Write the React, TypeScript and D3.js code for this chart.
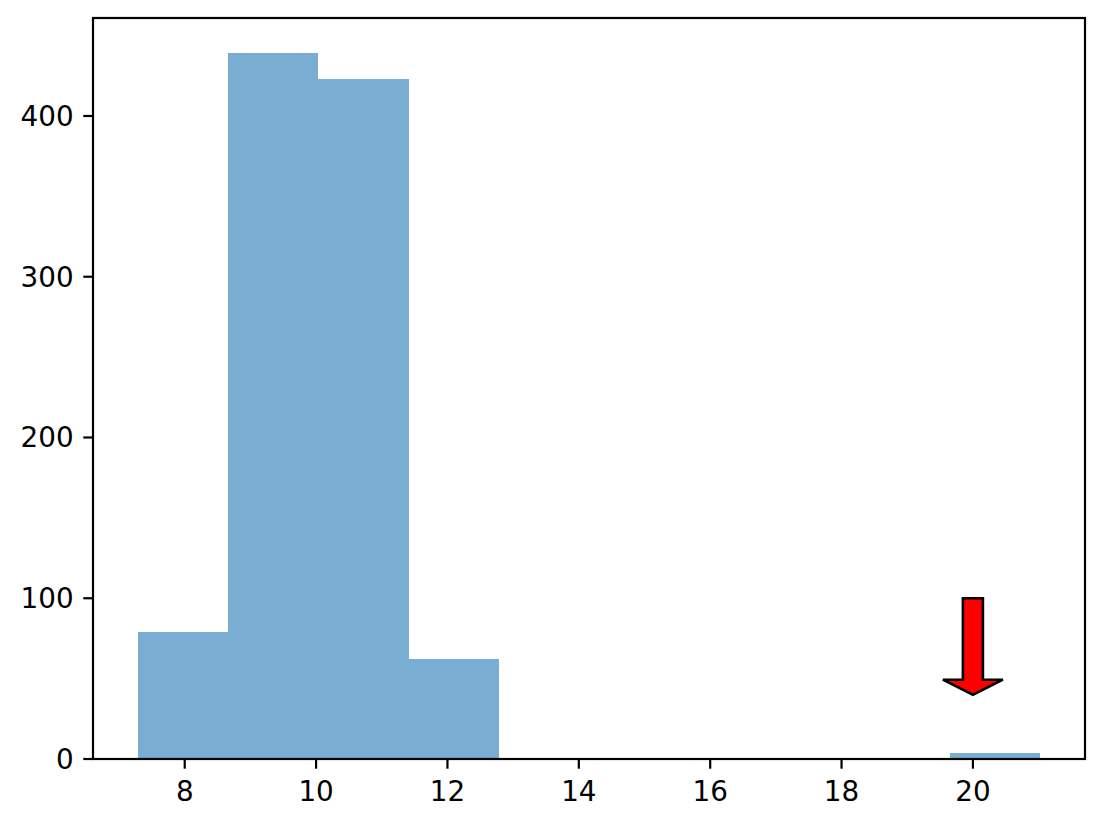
import React from "react";
import * as d3 from "d3";

const binStart = 7.29;
const binEnd = 21.02;
const binCounts = [79, 439, 423, 62, 0, 0, 0, 0, 0, 4];
const xTicks = [8, 10, 12, 14, 16, 18, 20];
const yTicks = [0, 100, 200, 300, 400];
const arrowFrom = { x: 20, y: 100 };
const arrowTo = { x: 20, y: 40 };

const W = 1104;
const H = 826;
const L = 93, R = 1085, T = 18, B = 759;
const FONT = "'DejaVu Sans', sans-serif";
const FS = 27.8;

export default function App() {
  const nb = binCounts.length;
  const bw = (binEnd - binStart) / nb;
  const bins = binCounts.map((c, i) => ({ x0: binStart + i * bw, x1: binStart + (i + 1) * bw, c }));
  const pad = (binEnd - binStart) * 0.05;
  const x = d3.scaleLinear().domain([binStart - pad, binEnd + pad]).range([L, R]);
  const ymax = (d3.max(binCounts) as number) * 1.05;
  const y = d3.scaleLinear().domain([0, ymax]).range([B, T]);

  const ax = x(arrowFrom.x);
  const ay0 = y(arrowFrom.y);
  const ay1 = y(arrowTo.y);
  const bodyHalf = 10;
  const headHalf = 30;
  const headLen = 15;
  const hb = ay1 - headLen;
  const arrowPts = [
    [ax - bodyHalf, ay0],
    [ax + bodyHalf, ay0],
    [ax + bodyHalf, hb],
    [ax + headHalf, hb],
    [ax, ay1],
    [ax - headHalf, hb],
    [ax - bodyHalf, hb],
  ].map((p) => p.join(",")).join(" ");

  return (
    <svg width={W} height={H} style={{ position: "absolute", left: 0, top: 0, background: "#fff" }}>
      <rect x={0} y={0} width={W} height={H} fill="#fff" />
      {bins.filter((b) => b.c > 0).map((b, i) => (
        <rect key={i} x={Math.round(x(b.x0))} y={y(b.c)} width={Math.round(x(b.x1)) - Math.round(x(b.x0))} height={B - y(b.c)} fill="#1f77b4" fillOpacity={0.6} shapeRendering="crispEdges" />
      ))}
      <polygon points={arrowPts} fill="#ff0000" stroke="#000" strokeWidth={2.6} strokeLinejoin="miter" />
      <rect x={L} y={T} width={R - L} height={B - T} fill="none" stroke="#000" strokeWidth={2.2} />
      {xTicks.map((t) => (
        <g key={t}>
          <line x1={x(t)} x2={x(t)} y1={B} y2={B + 9.7} stroke="#000" strokeWidth={2.2} />
          <text x={x(t)} y={B + 41.5} textAnchor="middle" fontFamily={FONT} fontSize={FS} fill="#000">{t}</text>
        </g>
      ))}
      {yTicks.map((t) => (
        <g key={t}>
          <line x1={L - 9.7} x2={L} y1={y(t)} y2={y(t)} stroke="#000" strokeWidth={2.2} />
          <text x={L - 19.4} y={y(t) + 10} textAnchor="end" fontFamily={FONT} fontSize={FS} fill="#000">{t}</text>
        </g>
      ))}
    </svg>
  );
}
